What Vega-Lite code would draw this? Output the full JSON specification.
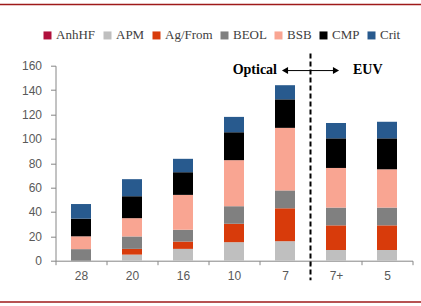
{
  "$schema": "https://vega.github.io/schema/vega-lite/v6.json",
  "width": 357,
  "height": 195,
  "autosize": "none",
  "padding": {"left": 55.5, "top": 65.7, "right": 8.5, "bottom": 45.3},
  "background": "white",
  "config": {
    "view": {"stroke": null},
    "axisY": {
      "labelOverlap": false, "labelFont": "Liberation Sans", "labelFontSize": 12, "labelColor": "#595959",
      "domainColor": "#868686", "tickColor": "#868686", "tickSize": 5, "labelPadding": 9, "grid": false, "title": null
    }
  },
  "datasets": {
    "bars": [
      {"node": "28", "series": "BEOL", "value": 9.5},
      {"node": "28", "series": "BSB", "value": 10.5},
      {"node": "28", "series": "CMP", "value": 14.5},
      {"node": "28", "series": "Crit", "value": 12},
      {"node": "20", "series": "APM", "value": 5},
      {"node": "20", "series": "Ag/From", "value": 4.7},
      {"node": "20", "series": "BEOL", "value": 10.2},
      {"node": "20", "series": "BSB", "value": 15},
      {"node": "20", "series": "CMP", "value": 18},
      {"node": "20", "series": "Crit", "value": 14},
      {"node": "16", "series": "APM", "value": 9.7},
      {"node": "16", "series": "Ag/From", "value": 6},
      {"node": "16", "series": "BEOL", "value": 9.7},
      {"node": "16", "series": "BSB", "value": 28.6},
      {"node": "16", "series": "CMP", "value": 18.6},
      {"node": "16", "series": "Crit", "value": 11},
      {"node": "10", "series": "APM", "value": 15.2},
      {"node": "10", "series": "Ag/From", "value": 15.1},
      {"node": "10", "series": "BEOL", "value": 14.4},
      {"node": "10", "series": "BSB", "value": 37.8},
      {"node": "10", "series": "CMP", "value": 22.9},
      {"node": "10", "series": "Crit", "value": 12.6},
      {"node": "7", "series": "APM", "value": 16},
      {"node": "7", "series": "Ag/From", "value": 27},
      {"node": "7", "series": "BEOL", "value": 14.7},
      {"node": "7", "series": "BSB", "value": 51.3},
      {"node": "7", "series": "CMP", "value": 23.4},
      {"node": "7", "series": "Crit", "value": 11.6},
      {"node": "7+", "series": "APM", "value": 8.8},
      {"node": "7+", "series": "Ag/From", "value": 20.2},
      {"node": "7+", "series": "BEOL", "value": 14.6},
      {"node": "7+", "series": "BSB", "value": 32.5},
      {"node": "7+", "series": "CMP", "value": 24.3},
      {"node": "7+", "series": "Crit", "value": 12.6},
      {"node": "5", "series": "APM", "value": 8.8},
      {"node": "5", "series": "Ag/From", "value": 20.2},
      {"node": "5", "series": "BEOL", "value": 14.6},
      {"node": "5", "series": "BSB", "value": 31.4},
      {"node": "5", "series": "CMP", "value": 25.4},
      {"node": "5", "series": "Crit", "value": 13.6}
    ]
  },
  "layer": [
    {
      "layer": [
        {
          "data": {"name": "bars"},
          "mark": {"type": "bar", "size": 20},
          "encoding": {
            "x": {
              "field": "node", "type": "nominal", "sort": null,
              "scale": {"domain": ["28", "20", "16", "10", "7", "7+", "5"], "paddingInner": 0, "paddingOuter": 0},
              "axis": {
                "title": null, "labelAngle": 0, "tickBand": "extent",
                "labelFont": "Liberation Sans", "labelFontSize": 12, "labelColor": "#595959",
                "domainColor": "#868686", "tickColor": "#868686", "tickSize": 4, "labelPadding": 6, "grid": false
              }
            },
            "y": {
              "field": "value", "type": "quantitative", "stack": "zero",
              "scale": {"domain": [0, 160], "nice": false},
              "axis": {"title": null, "values": [0, 20, 40, 60, 80, 100, 120, 140, 160]}
            },
            "order": {"field": "series", "sort": "ascending"},
            "color": {
              "field": "series", "type": "nominal",
              "scale": {
                "domain": ["AnhHF", "APM", "Ag/From", "BEOL", "BSB", "CMP", "Crit"],
                "range": ["#B0103C", "#BFBFBF", "#D83B0B", "#808080", "#F9A592", "#000000", "#285A8E"]
              },
              "legend": {
                "title": null, "orient": "none", "direction": "horizontal",
                "legendX": -14.5, "legendY": -37,
                "symbolType": "square", "symbolSize": 64, "symbolStrokeWidth": 0,
                "labelFont": "Liberation Serif", "labelFontSize": 13, "labelColor": "#404040",
                "labelOffset": 2, "columnPadding": 5
              }
            }
          }
        },
        {
          "data": {"values": [{"node": "7+", "top": 170, "bottom": -16}]},
          "mark": {"type": "rule", "color": "#000000", "strokeWidth": 2, "strokeDash": [5, 3]},
          "encoding": {
            "x": {"field": "node", "type": "nominal", "bandPosition": 0},
            "y": {"field": "top", "type": "quantitative", "axis": {"title": null, "values": [0, 20, 40, 60, 80, 100, 120, 140, 160]}},
            "y2": {"field": "bottom"}
          }
        },
        {
          "data": {"values": [{"from": "7", "to": "7+", "level": 156}]},
          "mark": {"type": "rule", "color": "#000000", "strokeWidth": 1},
          "encoding": {
            "x": {"field": "from", "type": "nominal", "bandPosition": 0.5},
            "x2": {"field": "to", "bandPosition": 0.5},
            "y": {"field": "level", "type": "quantitative", "axis": {"title": null, "values": [0, 20, 40, 60, 80, 100, 120, 140, 160]}}
          }
        },
        {
          "data": {"values": [
            {"node": "7", "level": 156, "dir": "triangle-left"},
            {"node": "7+", "level": 156, "dir": "triangle-right"}
          ]},
          "mark": {"type": "point", "filled": true, "color": "#000000", "size": 50, "opacity": 1},
          "encoding": {
            "x": {"field": "node", "type": "nominal"},
            "y": {"field": "level", "type": "quantitative", "axis": {"title": null, "values": [0, 20, 40, 60, 80, 100, 120, 140, 160]}},
            "shape": {"field": "dir", "type": "nominal", "scale": {"domain": ["triangle-left", "triangle-right"], "range": ["triangle-left", "triangle-right"]}, "legend": null}
          }
        },
        {
          "data": {"values": [{"node": "7", "level": 153, "label": "Optical"}]},
          "mark": {"type": "text", "font": "Liberation Serif", "fontWeight": "bold", "fontSize": 14, "align": "right", "baseline": "alphabetic", "dx": -8, "color": "#000000"},
          "encoding": {
            "x": {"field": "node", "type": "nominal"},
            "y": {"field": "level", "type": "quantitative", "axis": {"title": null, "values": [0, 20, 40, 60, 80, 100, 120, 140, 160]}},
            "text": {"field": "label"}
          }
        },
        {
          "data": {"values": [{"node": "7+", "level": 153, "label": "EUV"}]},
          "mark": {"type": "text", "font": "Liberation Serif", "fontWeight": "bold", "fontSize": 14, "align": "left", "baseline": "alphabetic", "dx": 17, "color": "#000000"},
          "encoding": {
            "x": {"field": "node", "type": "nominal"},
            "y": {"field": "level", "type": "quantitative", "axis": {"title": null, "values": [0, 20, 40, 60, 80, 100, 120, 140, 160]}},
            "text": {"field": "label"}
          }
        }
      ]
    },
    {
      "data": {"values": [
        {"start": -55.5, "end": 365.5, "level": 210.3},
        {"start": -55.5, "end": 365.5, "level": -33.9}
      ]},
      "mark": {"type": "rule", "color": "#9E1A1A", "strokeWidth": 1.5},
      "encoding": {
        "x": {"field": "start", "type": "quantitative", "scale": {"domain": [0, 357], "nice": false, "zero": false}, "axis": null},
        "x2": {"field": "end"},
        "y": {"field": "level", "type": "quantitative", "axis": {"title": null, "values": [0, 20, 40, 60, 80, 100, 120, 140, 160]}}
      }
    }
  ],
  "resolve": {"scale": {"x": "independent"}, "axis": {"x": "independent"}}
}
